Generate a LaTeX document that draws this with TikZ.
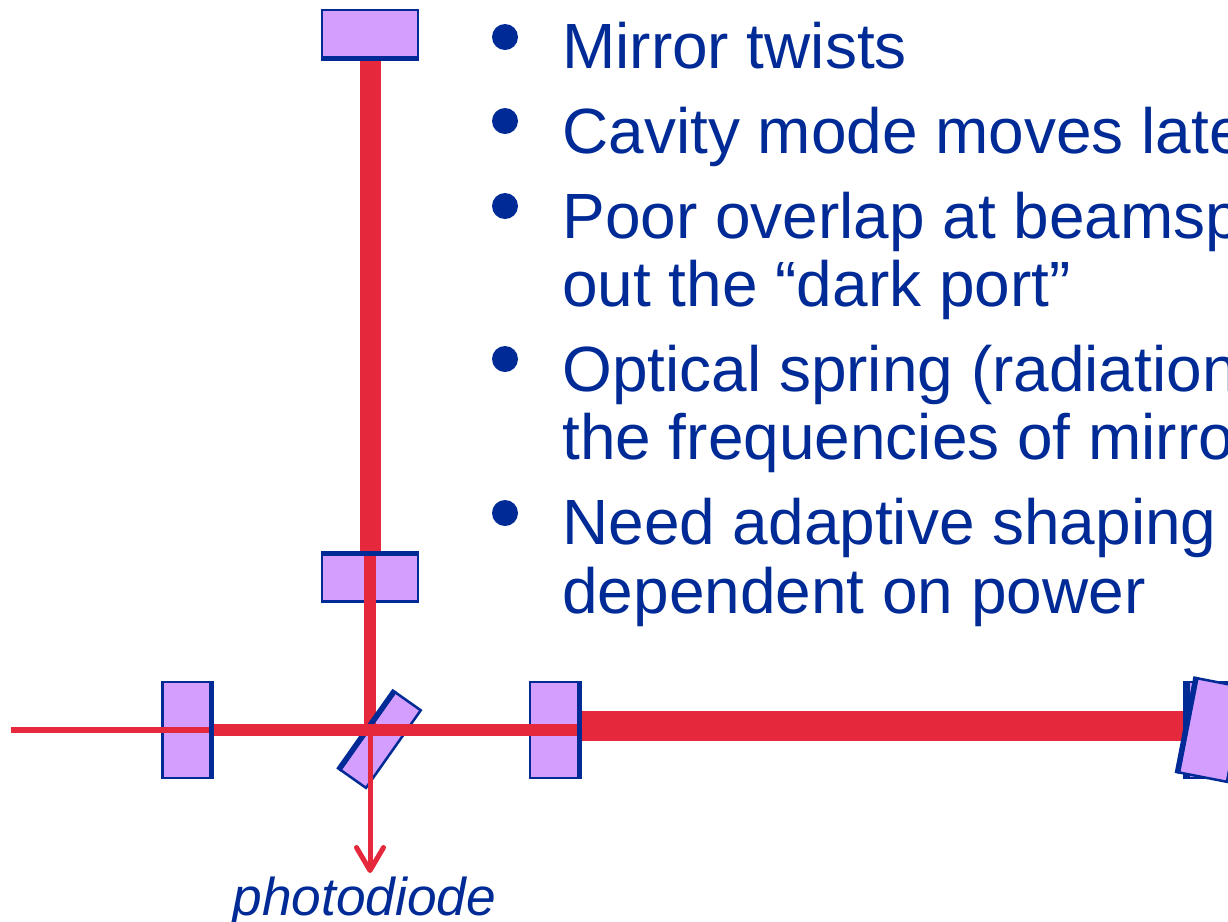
\documentclass[tikz,border=0pt]{standalone}
\usepackage{fontspec}
\setmainfont{Liberation Sans}
\usetikzlibrary{arrows.meta,calc,positioning}
\definecolor{mirrorblue}{HTML}{002A96}
\definecolor{mirrorfill}{HTML}{D49EFF}
\definecolor{beamred}{HTML}{E6283C}
\tikzset{
  mirrorbox/.style={draw=mirrorblue,fill=mirrorfill,line width=0.05cm,inner sep=0pt,minimum width=#1},
  mirrorbox/.default=1.92cm,
  coating/.style={draw=mirrorblue,line width=0.11cm},
  beam/.style={draw=beamred,line width=#1},
  slide/.style={text=mirrorblue,font=\fontsize{36.4}{40}\selectfont,anchor=base west,inner sep=0pt},
  dotmark/.style={circle,fill=mirrorblue,minimum size=0.52cm,inner sep=0pt}
}
\begin{document}
\begin{tikzpicture}[>={Straight Barb[length=0.46cm,width=0.54cm,round]},x=0.02cm,y=-0.02cm]
\useasboundingbox (0,0) rectangle (1228,921);
\clip (0,0) rectangle (1228,921);
% mirrors
\node[mirrorbox,minimum height=0.96cm] (endy) at (370,34) {};
\node[mirrorbox,minimum height=0.96cm] (inity) at (370,577.5) {};
\node[mirrorbox=0.96cm,minimum height=1.92cm] (recycle) at (186.5,730) {};
\node[mirrorbox=0.96cm,minimum height=1.92cm] (initx) at (554,730) {};
\node[mirrorbox=1.9cm,minimum height=0.63cm,rotate=54.8] (split) at (380.5,740) {};
\node[mirrorbox=0.98cm,minimum height=1.92cm] (endxa) at (1212,730) {};
% free ends of the beams
\coordinate (laser) at (11,730);
\coordinate (diode) at (370,873);
\coordinate (centre) at (370,730);
% arm beams
\draw[beam=0.42cm] (endy.south) -- (inity.north);
\draw[beam=0.6cm] ($(initx.east)+(0,-4)$) -- ($(endxa.west)+(0,-4)$);
% tilted end mirror
\draw[coating,line width=0.14cm] (endxa.north west) -- (endxa.south west);
\node[mirrorbox=0.98cm,minimum height=1.92cm,rotate=-11] (endxb) at (1212,730) {};
\draw[coating] (endxb.north west) -- (endxb.south west);
% beams inside the corner
\draw[beam=0.23cm] (inity.north) -- (centre);
\draw[coating] (split.north west) -- (split.north east);
\draw[beam=0.24cm] (recycle.east) -- (initx.east);
\draw[beam=0.12cm] (laser) -- (recycle.east);
\draw[beam=0.1cm,->] (centre) -- (diode);
% coatings
\draw[coating] ($(endy.south west)+(0,-1)$) -- ($(endy.south east)+(0,-1)$);
\draw[coating] ($(inity.north west)+(0,1)$) -- ($(inity.north east)+(0,1)$);
\draw[coating] (recycle.north east) -- (recycle.south east);
\draw[coating] (initx.north east) -- (initx.south east);
\node[text=mirrorblue,font=\fontsize{30.3}{34}\selectfont\itshape,anchor=base,inner sep=0pt] (photodiode) at (364.5,915) {photodiode};
% slide text
\foreach \y/\n/\l in {68/one/Mirror twists,153/two/Cavity mode moves late,238/three/Poor overlap at beamsp,306/threeb/out the “dark port”,391/four/Optical spring (radiation,459/fourb/the frequencies of mirro,544/five/Need adaptive shaping,613/fiveb/dependent on power}
  \node[slide] (\n) at (562,\y) {\l};
\foreach \y/\n in {37/dotone,121/dottwo,206/dotthree,359/dotfour,513/dotfive}
  \node[dotmark] (\n) at (505,\y) {};
\end{tikzpicture}
\end{document}
